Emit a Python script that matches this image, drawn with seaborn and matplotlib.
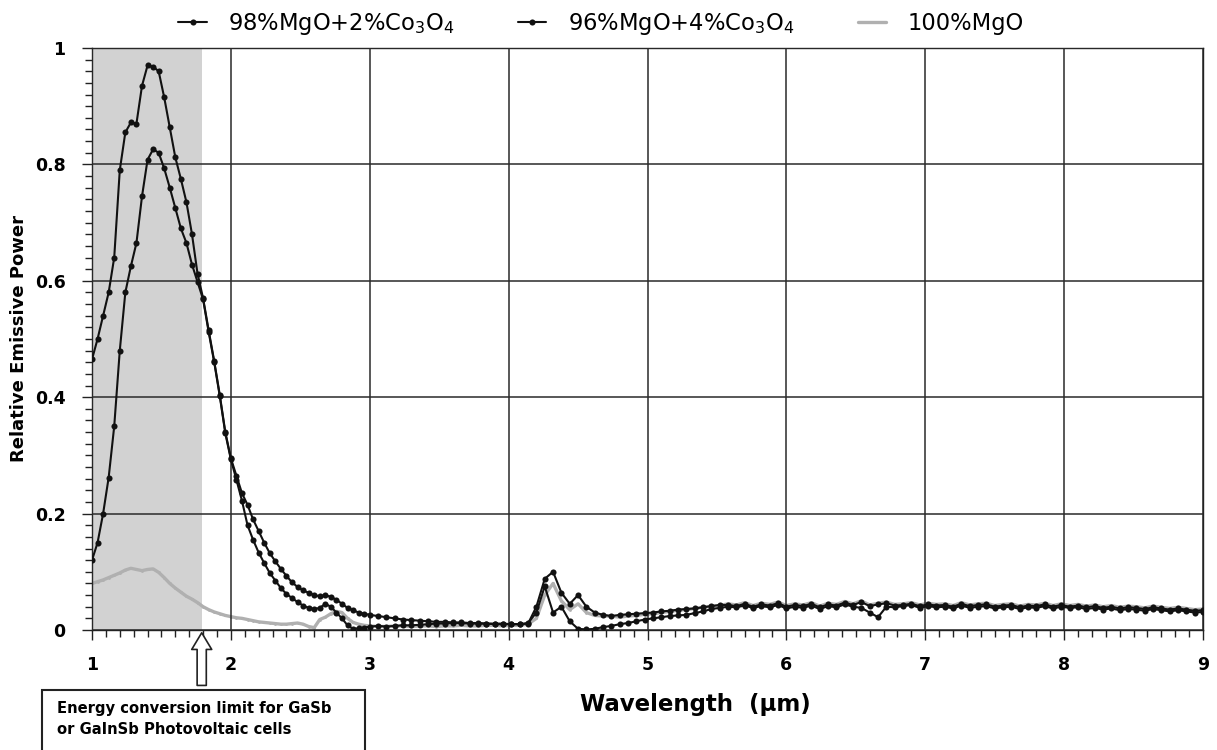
import numpy as np
import pandas as pd
import matplotlib
matplotlib.use("Agg")
import matplotlib.pyplot as plt
from matplotlib.patches import Rectangle
from matplotlib.ticker import MultipleLocator, FuncFormatter
import seaborn as sns

# ---------------- data ----------------
# wavelength grid (um): fine near the peak, coarser beyond 3 um
wl_near = np.round(np.arange(1.00, 2.999, 0.04), 2)   # 50 points
wl_far = np.round(np.arange(3.00, 9.001, 0.06), 2)    # 101 points
wavelength = np.concatenate([wl_near, wl_far])

labels = ["98%MgO+2%Co$_3$O$_4$", "96%MgO+4%Co$_3$O$_4$", "100%MgO"]

co2_near = [0.120, 0.150, 0.200, 0.262, 0.350, 0.480, 0.580, 0.625, 0.665, 0.745,
            0.808, 0.826, 0.820, 0.793, 0.760, 0.725, 0.690, 0.665, 0.628, 0.598,
            0.568, 0.512, 0.460, 0.402, 0.338, 0.293, 0.258, 0.222, 0.180, 0.155,
            0.133, 0.115, 0.098, 0.085, 0.072, 0.062, 0.055, 0.048, 0.042, 0.038,
            0.036, 0.038, 0.045, 0.040, 0.030, 0.020, 0.008, 0.002, 0.003, 0.004]
co2_far = [0.006, 0.007, 0.006, 0.007, 0.008, 0.008, 0.009, 0.010, 0.011, 0.011,
           0.012, 0.012, 0.011, 0.011, 0.011, 0.010, 0.010, 0.010, 0.010, 0.012,
           0.030, 0.075, 0.030, 0.040, 0.015, 0.002, 0.001, 0.002, 0.005, 0.007,
           0.010, 0.012, 0.015, 0.018, 0.020, 0.022, 0.024, 0.025, 0.026, 0.029,
           0.032, 0.036, 0.038,
           0.040, 0.039, 0.042, 0.038, 0.041, 0.039, 0.043, 0.037, 0.040, 0.038,
           0.042, 0.036, 0.041, 0.039, 0.044, 0.040, 0.038, 0.030, 0.022, 0.040,
           0.039, 0.041, 0.043, 0.038, 0.041, 0.039, 0.040, 0.037, 0.042, 0.038,
           0.040, 0.041, 0.037, 0.039, 0.040, 0.036, 0.039, 0.038, 0.041, 0.037,
           0.040, 0.038, 0.039, 0.036, 0.038, 0.035, 0.037, 0.034, 0.036, 0.035,
           0.033, 0.036, 0.034, 0.032, 0.034, 0.032, 0.030, 0.031]

co4_near = [0.465, 0.500, 0.540, 0.580, 0.640, 0.790, 0.855, 0.872, 0.870, 0.935,
            0.970, 0.968, 0.960, 0.915, 0.864, 0.812, 0.775, 0.735, 0.680, 0.612,
            0.570, 0.515, 0.462, 0.404, 0.340, 0.295, 0.265, 0.235, 0.215, 0.190,
            0.170, 0.150, 0.132, 0.118, 0.105, 0.093, 0.082, 0.074, 0.068, 0.064,
            0.060, 0.058, 0.060, 0.057, 0.052, 0.045, 0.038, 0.034, 0.030, 0.028]
co4_far = [0.026, 0.024, 0.022, 0.020, 0.018, 0.017, 0.016, 0.015, 0.014, 0.014,
           0.013, 0.013, 0.012, 0.012, 0.011, 0.011, 0.011, 0.010, 0.010, 0.011,
           0.040, 0.088, 0.100, 0.064, 0.045, 0.060, 0.040, 0.030, 0.026, 0.024,
           0.026, 0.027, 0.028, 0.029, 0.030, 0.032, 0.033, 0.035, 0.036, 0.037,
           0.039, 0.041, 0.043,
           0.043, 0.041, 0.045, 0.040, 0.044, 0.042, 0.046, 0.040, 0.043, 0.041,
           0.045, 0.039, 0.044, 0.042, 0.047, 0.043, 0.048, 0.041, 0.044, 0.046,
           0.042, 0.043, 0.045, 0.041, 0.044, 0.042, 0.043, 0.040, 0.045, 0.041,
           0.043, 0.044, 0.040, 0.042, 0.043, 0.039, 0.042, 0.041, 0.044, 0.040,
           0.043, 0.040, 0.042, 0.039, 0.041, 0.038, 0.040, 0.037, 0.039, 0.038,
           0.036, 0.039, 0.037, 0.035, 0.037, 0.035, 0.033, 0.034]

mgo_near = [0.080, 0.083, 0.086, 0.090, 0.094, 0.098, 0.103, 0.106, 0.104, 0.102,
            0.104, 0.105, 0.099, 0.090, 0.080, 0.072, 0.065, 0.058, 0.053, 0.047,
            0.040, 0.035, 0.031, 0.028, 0.025, 0.023, 0.021, 0.020, 0.018, 0.016,
            0.014, 0.013, 0.012, 0.011, 0.010, 0.010, 0.011, 0.012, 0.010, 0.006,
            0.004, 0.018, 0.022, 0.028, 0.032, 0.030, 0.020, 0.013, 0.010, 0.008]
mgo_far = [0.007, 0.006, 0.006, 0.007, 0.007, 0.006, 0.007, 0.007, 0.006, 0.007,
           0.007, 0.008, 0.007, 0.007, 0.008, 0.008, 0.007, 0.008, 0.008, 0.010,
           0.020, 0.060, 0.080, 0.050, 0.035, 0.045, 0.030, 0.025, 0.024, 0.024,
           0.022, 0.024, 0.025, 0.027, 0.028, 0.030, 0.032, 0.034, 0.035, 0.037,
           0.039, 0.041, 0.042,
           0.045, 0.043, 0.047, 0.042, 0.046, 0.044, 0.048, 0.042, 0.045, 0.043,
           0.047, 0.041, 0.046, 0.044, 0.049, 0.045, 0.050, 0.043, 0.046, 0.048,
           0.044, 0.045, 0.047, 0.043, 0.046, 0.044, 0.045, 0.042, 0.047, 0.043,
           0.045, 0.046, 0.042, 0.044, 0.045, 0.041, 0.044, 0.043, 0.046, 0.042,
           0.045, 0.042, 0.044, 0.041, 0.043, 0.040, 0.042, 0.039, 0.041, 0.040,
           0.038, 0.041, 0.039, 0.037, 0.039, 0.037, 0.035, 0.036]

co2 = np.array(co2_near + co2_far)
co4 = np.array(co4_near + co4_far)
mgo = np.array(mgo_near + mgo_far)

pv_limit = 1.79  # um, GaSb / GaInSb energy conversion limit

# ---------------- plot ----------------
sns.set_theme(style="ticks")
plt.rcParams["font.family"] = ["DejaVu Sans"]
plt.rcParams["text.color"] = "black"
plt.rcParams["axes.labelcolor"] = "black"
plt.rcParams["xtick.color"] = "black"
plt.rcParams["ytick.color"] = "black"

W, H = 1217, 750
fig = plt.figure(figsize=(W / 100, H / 100), dpi=100)
ax = fig.add_axes([92 / W, 1 - 630 / H, (1203 - 92) / W, (630 - 48) / H])

ax.axvspan(1.0, pv_limit, color="#d2d2d2", zorder=0, lw=0)

sns.lineplot(x=wavelength, y=mgo, ax=ax, color="#b0b0b0", lw=2.4, marker=".",
             markersize=4, markeredgewidth=0, label=labels[2], zorder=2)
sns.lineplot(x=wavelength, y=co2, ax=ax, color="#111111", lw=1.5, marker="o",
             markersize=4.4, markeredgewidth=0, label=labels[0], zorder=3)
sns.lineplot(x=wavelength, y=co4, ax=ax, color="#111111", lw=1.5, marker="o",
             markersize=4.4, markeredgewidth=0, label=labels[1], zorder=3)

handles, labs = ax.get_legend_handles_labels()
ax.get_legend().remove()
order = [1, 2, 0]
fig.legend([handles[i] for i in order], [labs[i] for i in order],
           loc="upper center", bbox_to_anchor=(0.494, 1.012), ncol=3, frameon=False,
           fontsize=16.3, columnspacing=2.8, handlelength=1.25, handletextpad=0.95)

ax.set_xlim(1, 9)
ax.set_ylim(0, 1)
ax.xaxis.set_major_locator(MultipleLocator(1))
ax.xaxis.set_minor_locator(MultipleLocator(0.1))
ax.yaxis.set_major_locator(MultipleLocator(0.2))
ax.yaxis.set_minor_locator(MultipleLocator(0.02))
ax.yaxis.set_major_formatter(FuncFormatter(lambda v, p: "%g" % round(v, 2)))

ax.grid(True, which="major", color="#2a2a2a", lw=1.1, zorder=1)
ax.set_axisbelow(False)
for sp in ax.spines.values():
    sp.set_color("#222222")
    sp.set_linewidth(1.0)

ax.tick_params(axis="both", which="major", direction="out", length=7, width=1,
               color="#222222", labelsize=12.5)
ax.tick_params(axis="both", which="minor", direction="out", length=5, width=1,
               color="#222222")
ax.tick_params(axis="x", which="major", pad=12)
ax.tick_params(axis="y", which="major", pad=12)
for t in ax.get_xticklabels() + ax.get_yticklabels():
    t.set_fontweight("bold")

ax.set_ylabel("Relative Emissive Power", fontsize=13, fontweight="bold")
ax.yaxis.set_label_coords(-(92 - 28) / (1203 - 92), 0.5)
ax.set_xlabel("Wavelength  (\u03bcm)", fontsize=16.5, fontweight="bold")
ax.xaxis.set_label_coords((695 - 92) / (1203 - 92), -(693 - 630) / (630 - 48))

# annotation box with hollow arrow
box = Rectangle((42 / W, -0.05), (365 - 42) / W, 0.05 + 60 / H,
                transform=fig.transFigure, facecolor="white", edgecolor="#222222",
                lw=1.5, zorder=5)
fig.patches.append(box)
fig.text(57 / W, 1 - 719 / H, "Energy conversion limit for GaSb\nor GaInSb Photovoltaic cells",
         fontsize=10.6, fontweight="bold", va="center", ha="left", linespacing=1.5, zorder=6)
ax.annotate("", xy=(pv_limit, 0.0), xycoords="data",
            xytext=(pv_limit, -0.1), textcoords="data",
            arrowprops=dict(arrowstyle="simple,head_length=1.0,head_width=1.2,tail_width=0.55",
                            mutation_scale=12, fc="white", ec="#222222", lw=1.2),
            annotation_clip=False)

fig.savefig("out.png", dpi=100)
